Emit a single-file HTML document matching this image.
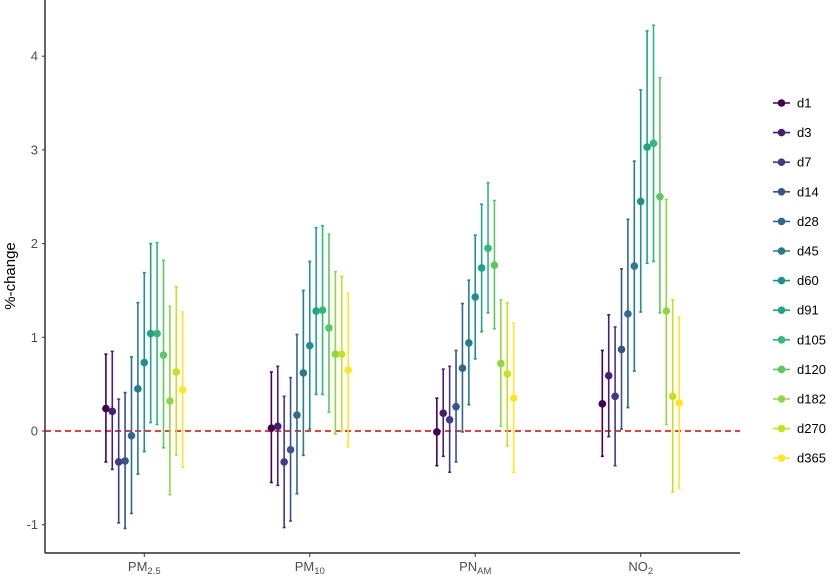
<!DOCTYPE html>
<html><head><meta charset="utf-8"><style>
body{margin:0;background:#fff;}
svg text{font-family:"Liberation Sans",sans-serif;}
</style></head><body>
<svg id="chart" width="840" height="577" viewBox="0 0 840 577" xmlns="http://www.w3.org/2000/svg">
<g id="plot"></g>
<g id="legend"></g>
</svg>
<script>
const categories=["PM2.5","PM10","PNAM","NO2"];
const catMain=["PM","PM","PN","NO"];
const catSub=["2.5","10","AM","2"];
const series=["d1","d3","d7","d14","d28","d45","d60","d91","d105","d120","d182","d270","d365"];
const colors=["#440154","#481F70","#443A83","#3B528B","#31688E","#287C8E","#21908C","#20A486","#35B779","#5DC863","#8FD744","#C7E020","#FDE725"];
const est_pm25=[0.24,0.21,-0.33,-0.32,-0.05,0.45,0.73,1.04,1.04,0.81,0.32,0.63,0.44];
const lo_pm25=[-0.33,-0.41,-0.98,-1.04,-0.88,-0.46,-0.22,0.09,0.07,-0.18,-0.68,-0.26,-0.39];
const hi_pm25=[0.82,0.85,0.34,0.41,0.79,1.37,1.69,2.0,2.01,1.82,1.33,1.54,1.27];
const est_pm10=[0.03,0.05,-0.33,-0.2,0.17,0.62,0.91,1.28,1.29,1.1,0.82,0.82,0.65];
const lo_pm10=[-0.55,-0.58,-1.03,-0.96,-0.67,-0.26,0.02,0.39,0.39,0.2,-0.03,0.0,-0.17];
const hi_pm10=[0.63,0.69,0.37,0.57,1.03,1.5,1.81,2.17,2.19,2.1,1.7,1.65,1.47];
const est_pnam=[-0.01,0.19,0.12,0.26,0.67,0.94,1.43,1.74,1.95,1.77,0.72,0.61,0.35];
const lo_pnam=[-0.37,-0.27,-0.44,-0.33,-0.01,0.28,0.77,1.06,1.26,1.09,0.05,-0.16,-0.44];
const hi_pnam=[0.35,0.66,0.69,0.86,1.36,1.61,2.09,2.42,2.65,2.46,1.4,1.37,1.15];
const est_no2=[0.29,0.59,0.37,0.87,1.25,1.76,2.45,3.03,3.07,2.5,1.28,0.37,0.3];
const lo_no2=[-0.27,-0.06,-0.37,0.02,0.25,0.64,1.27,1.79,1.81,1.26,0.07,-0.65,-0.61];
const hi_no2=[0.86,1.24,1.11,1.73,2.26,2.88,3.64,4.27,4.33,3.77,2.47,1.4,1.22];
const yTicks=[-1,0,1,2,3,4];

const est=[est_pm25,est_pm10,est_pnam,est_no2];
const lo=[lo_pm25,lo_pm10,lo_pnam,lo_no2];
const hi=[hi_pm25,hi_pm10,hi_pnam,hi_no2];
const NS="http://www.w3.org/2000/svg";
const X0=45,X1=740,Y0=553;
function yScale(v){return 431-v*93.7;}
function xScale(ci,si){const step=(X1-X0)/(categories.length-1+1.2);return X0+step*(0.6+ci)+(si-(series.length-1)/2)*6.4;}
function mk(tag,attrs,parent){const e=document.createElementNS(NS,tag);for(const k in attrs)e.setAttribute(k,attrs[k]);parent.appendChild(e);return e;}
const plot=document.getElementById('plot');
let ax=mk('line',{x1:X0,y1:0,x2:X0,y2:Y0,stroke:'#000','stroke-width':1.2},plot);


ax=mk('line',{x1:X0,y1:Y0,x2:X1,y2:Y0,stroke:'#000','stroke-width':1.2},plot);


yTicks.forEach(t=>{
  const y=yScale(t);
  const tk=mk('line',{x1:X0-3,y1:y,x2:X0,y2:y,stroke:'#333','stroke-width':1},plot);
  
  
  const tx=mk('text',{x:X0-7,y:y+4.5,'text-anchor':'end','font-size':13,fill:'#4d4d4d'},plot);
  tx.textContent=t;
  
  
});
const yt=mk('text',{x:0,y:0,transform:'translate(15,276) rotate(-90)','text-anchor':'middle','font-size':15,fill:'#000'},plot);
yt.textContent='%-change';


categories.forEach((c,ci)=>{
  const x=xScale(ci,(series.length-1)/2);
  const tk=mk('line',{x1:x,y1:Y0,x2:x,y2:Y0+4,stroke:'#333','stroke-width':1},plot);
  
  
  const tx=mk('text',{x:x,y:571,'text-anchor':'middle','font-size':13,fill:'#4d4d4d'},plot);
  
  
  tx.appendChild(document.createTextNode(catMain[ci]));
  const s=mk('tspan',{'font-size':9.5,dy:3},tx);s.textContent=catSub[ci];
});
const zl=mk('line',{x1:X0,y1:yScale(0),x2:X1,y2:yScale(0),stroke:'#e00000','stroke-width':1.4,'stroke-dasharray':'6,4'},plot);


categories.forEach((c,ci)=>{
  series.forEach((s,si)=>{
    const x=xScale(ci,si);
    const g=mk('g',{},plot);
    
    
    mk('line',{x1:x,y1:yScale(lo[ci][si]),x2:x,y2:yScale(hi[ci][si]),stroke:colors[si],'stroke-width':1.6},g);
    mk('line',{x1:x-1.5,y1:yScale(lo[ci][si]),x2:x+1.5,y2:yScale(lo[ci][si]),stroke:colors[si],'stroke-width':1.6},g);
    mk('line',{x1:x-1.5,y1:yScale(hi[ci][si]),x2:x+1.5,y2:yScale(hi[ci][si]),stroke:colors[si],'stroke-width':1.6},g);
    const p=mk('circle',{cx:x,cy:yScale(est[ci][si]),r:3.8,fill:colors[si]},plot);
    
    
  });
});
const leg=document.getElementById('legend');
series.forEach((s,si)=>{
  const y=103+si*29.6;
  const g=mk('g',{},leg);
  
  
  mk('line',{x1:773,y1:y,x2:790,y2:y,stroke:colors[si],'stroke-width':1.6},g);
  mk('circle',{cx:781.5,cy:y,r:3.8,fill:colors[si]},g);
  const t=mk('text',{x:797,y:y+4.5,'font-size':13,fill:'#000'},g);
  t.textContent=s;
});
</script>
</body></html>
